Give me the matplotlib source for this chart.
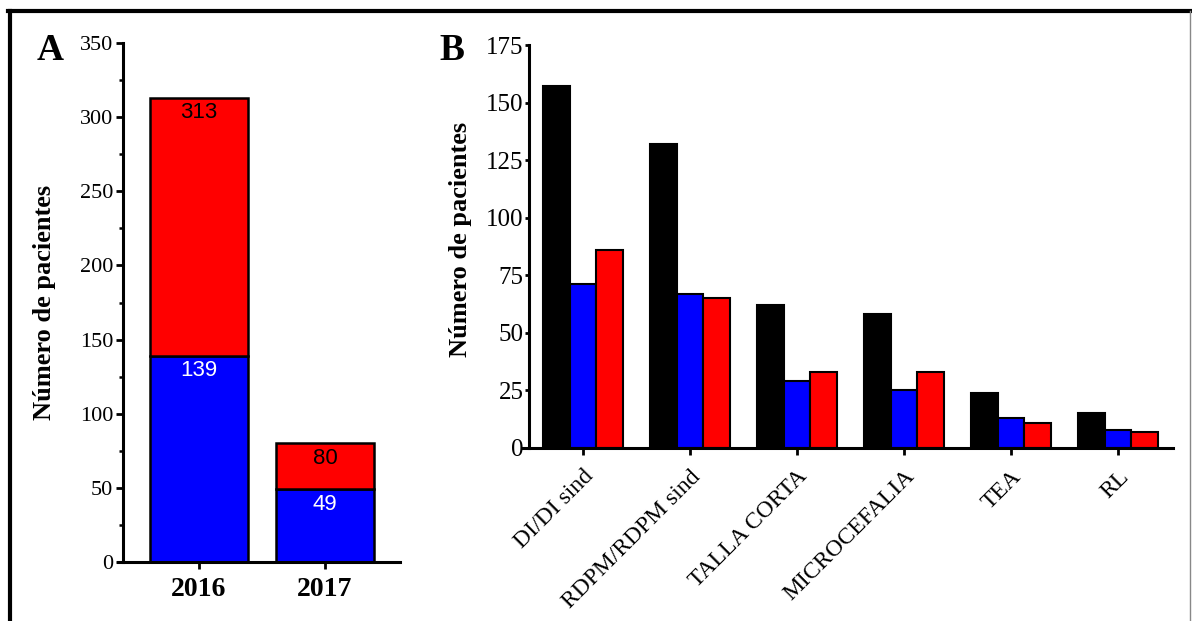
import numpy as np
import matplotlib.pyplot as plt
from matplotlib.lines import Line2D
from matplotlib.ticker import MultipleLocator

# panel A data
years = ['2016', '2017']
blue_a = [139, 49]
total_a = [313, 80]

# panel B data
categories = ['DI/DI sind', 'RDPM/RDPM sind', 'TALLA CORTA', 'MICROCEFALIA', 'TEA', 'RL']
black_b = [157, 132, 62, 58, 24, 15]
blue_b = [71, 67, 29, 25, 13, 8]
red_b = [86, 65, 33, 33, 11, 7]

serif = 'Liberation Serif'
sans = 'Liberation Sans'
W, H = 1192, 621

fig = plt.figure(figsize=(11.92, 6.21), dpi=100)


def px_axes(left, right, bottom, top):
    return fig.add_axes([left / W, 1 - bottom / H, (right - left) / W, (bottom - top) / H])


def style_axes(ax, spine_x, ytick_size):
    for s in ['top', 'right']:
        ax.spines[s].set_visible(False)
    ax.spines['left'].set_position(('data', spine_x))
    ax.spines['left'].set_linewidth(2.2)
    ax.spines['bottom'].set_linewidth(2.2)
    ax.tick_params(axis='both', which='major', direction='out', width=2.0, length=5)
    ax.tick_params(axis='y', which='major', labelsize=ytick_size)
    ax.tick_params(axis='y', which='minor', direction='out', width=1.8, length=3)
    for lab in ax.get_yticklabels():
        lab.set_fontfamily(serif)


# ---- panel A ----
axA = px_axes(118, 400, 562, 43)
xa = np.arange(len(years))
red_seg = [t - b for t, b in zip(total_a, blue_a)]
axA.bar(xa, blue_a, width=0.78, color='#0000ff', edgecolor='black', linewidth=1.8, zorder=2)
axA.bar(xa, red_seg, bottom=blue_a, width=0.78, color='#ff0000', edgecolor='black',
        linewidth=1.8, zorder=2)
for x, b, t in zip(xa, blue_a, total_a):
    axA.text(x, b - 3, str(b), ha='center', va='top', color='white', fontsize=16, fontfamily=sans)
    axA.text(x, t - 3, str(t), ha='center', va='top', color='black', fontsize=16, fontfamily=sans)
axA.set_xlim(-0.643, 1.595)
axA.set_ylim(0, 350)
axA.yaxis.set_major_locator(MultipleLocator(50))
axA.yaxis.set_minor_locator(MultipleLocator(25))
axA.set_xticks(xa)
style_axes(axA, -0.603, 16)
axA.set_xticklabels(years, fontfamily=serif, fontweight='bold', fontsize=20)
axA.tick_params(axis='x', pad=6)
axA.tick_params(axis='y', pad=2)

# ---- panel B ----
axB = px_axes(523, 1173, 448, 45)
xb = np.arange(len(categories))
bw = 0.25
axB.bar(xb - bw, black_b, width=bw, color='black', edgecolor='black', linewidth=1.5, zorder=2)
axB.bar(xb, blue_b, width=bw, color='#0000ff', edgecolor='black', linewidth=1.5, zorder=2)
axB.bar(xb + bw, red_b, width=bw, color='#ff0000', edgecolor='black', linewidth=1.5, zorder=2)
axB.set_xlim(-0.561, 5.514)
axB.set_ylim(0, 175)
axB.yaxis.set_major_locator(MultipleLocator(25))
axB.set_xticks(xb)
style_axes(axB, -0.505, 18)
axB.set_xticklabels(categories, rotation=45, ha='right', rotation_mode='anchor',
                    fontfamily=serif, fontsize=17)
axB.tick_params(axis='y', which='major', length=3, pad=1)
axB.tick_params(axis='x', pad=8)

# y labels and panel letters
fig.text(45 / W, 1 - 302 / H, 'Número de pacientes', rotation=90, ha='center', va='center',
         fontfamily=serif, fontweight='bold', fontsize=19)
fig.text(460 / W, 1 - 239 / H, 'Número de pacientes', rotation=90, ha='center', va='center',
         fontfamily=serif, fontweight='bold', fontsize=19)
fig.text(50 / W, 1 - 50 / H, 'A', ha='center', va='center', fontfamily=serif,
         fontweight='bold', fontsize=27)
fig.text(452 / W, 1 - 51 / H, 'B', ha='center', va='center', fontfamily=serif,
         fontweight='bold', fontsize=27)

# outer frame
fig.add_artist(Line2D([10 / W, 10 / W], [0, 1 - 11 / H], transform=fig.transFigure,
                      color='black', linewidth=3))
fig.add_artist(Line2D([8 / W, 1190 / W], [1 - 11 / H, 1 - 11 / H], transform=fig.transFigure,
                      color='black', linewidth=3))
fig.add_artist(Line2D([1190 / W, 1190 / W], [0, 1 - 11 / H], transform=fig.transFigure,
                      color='#888888', linewidth=1))

fig.savefig('out.png', dpi=100)
